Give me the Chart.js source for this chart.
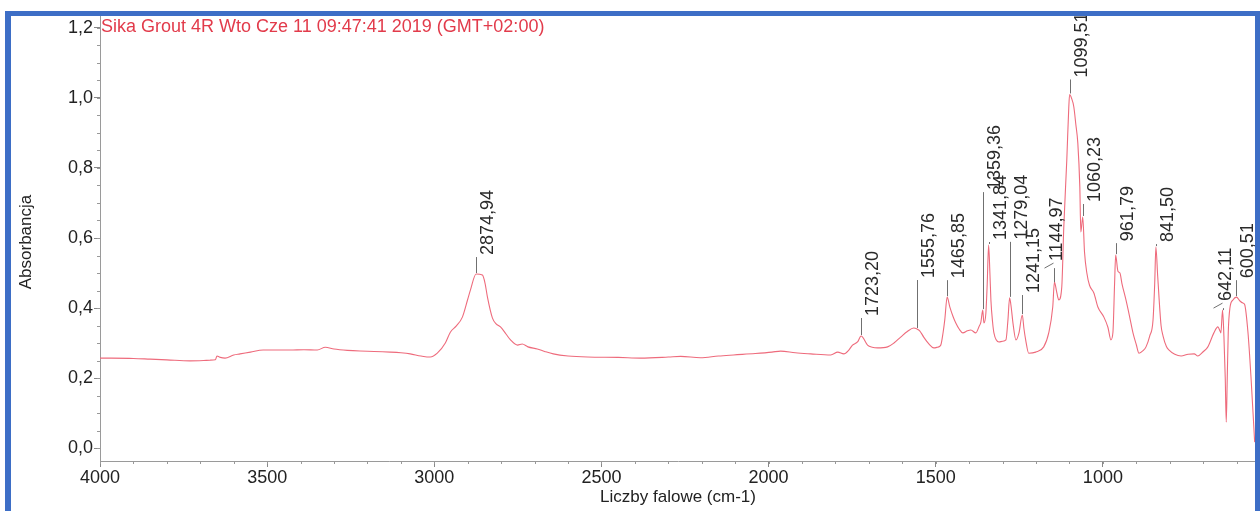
<!DOCTYPE html>
<html>
<head>
<meta charset="utf-8">
<script src="https://cdn.jsdelivr.net/npm/chart.js@4.4.0/dist/chart.umd.min.js"></script>
<style>
  html, body { margin: 0; padding: 0; background: #fff; overflow: hidden; }
  #wrap { position: relative; width: 1260px; height: 511px; }
  #frame { position: absolute; left: 5px; top: 11px; width: 1244px; height: 520px;
           border: 5px solid #3d6ec6; border-left-width: 6px; pointer-events: none; }
</style>
</head>
<body>
<div id="wrap">
  <canvas id="myChart" width="1260" height="511"></canvas>
  <div id="frame"></div>
</div>
<script>
// spectrum (cm-1, absorbance)
var wavenumbers = [
  4000, 3900, 3850, 3800, 3731, 3690, 3671, 3655, 3650, 3640, 3626, 3600, 3581, 3550, 3512,
  3470, 3431, 3390, 3350, 3326, 3300, 3260, 3222, 3180, 3132, 3100, 3072, 3040, 3012, 2991,
  2967, 2952, 2934, 2916, 2900, 2892, 2874.94, 2856, 2848, 2841, 2826, 2815, 2802, 2785, 2772,
  2751, 2737, 2720, 2692, 2670, 2644, 2600, 2542, 2450, 2383, 2300, 2263, 2204, 2150, 2105,
  2040, 1990, 1964, 1920, 1874, 1814, 1793, 1775, 1760, 1749, 1734, 1723.2, 1704, 1690, 1674,
  1644, 1625, 1605, 1585, 1566, 1555.76, 1548, 1536, 1520, 1506, 1495, 1485, 1478, 1473, 1465.85,
  1458, 1448, 1440, 1430, 1419, 1405, 1395, 1380, 1371, 1365, 1359.36, 1356, 1350, 1346, 1341.84,
  1338, 1335, 1330, 1326, 1311, 1300, 1290, 1284, 1279.04, 1274, 1269, 1260, 1251, 1241.15, 1236,
  1231, 1222, 1201, 1177, 1162, 1150, 1144.97, 1139, 1135, 1132, 1123, 1117, 1108, 1102, 1099.51,
  1094, 1087, 1081, 1075, 1069, 1066, 1060.23, 1055, 1048, 1040, 1027, 1015, 997, 985, 976,
  970, 965, 961.79, 955, 949, 943, 931, 920, 910, 900, 892, 880, 871, 860, 850,
  845, 841.5, 836, 826, 820, 810, 802, 785, 766, 745, 727, 716, 700, 686, 668,
  656, 650, 647, 642.11, 638, 634, 631, 628, 625, 620, 611, 600.51, 590, 581, 576,
  566, 557, 546
];
var absorbance = [
  0.257, 0.256, 0.254, 0.252, 0.249, 0.250, 0.251, 0.252, 0.263, 0.259, 0.257, 0.266, 0.269, 0.274, 0.280,
  0.280, 0.280, 0.281, 0.280, 0.288, 0.283, 0.279, 0.277, 0.276, 0.274, 0.272, 0.269, 0.263, 0.260, 0.271,
  0.300, 0.331, 0.349, 0.374, 0.425, 0.451, 0.497, 0.494, 0.470, 0.431, 0.371, 0.355, 0.346, 0.325, 0.309,
  0.294, 0.297, 0.289, 0.283, 0.276, 0.269, 0.263, 0.260, 0.259, 0.257, 0.260, 0.262, 0.258, 0.263, 0.266,
  0.270, 0.274, 0.277, 0.272, 0.269, 0.266, 0.274, 0.269, 0.280, 0.294, 0.303, 0.320, 0.294, 0.288, 0.286,
  0.289, 0.300, 0.317, 0.333, 0.343, 0.340, 0.335, 0.317, 0.297, 0.286, 0.288, 0.294, 0.330, 0.366, 0.431,
  0.403, 0.375, 0.357, 0.340, 0.329, 0.335, 0.337, 0.329, 0.346, 0.360, 0.394, 0.357, 0.386, 0.470, 0.580,
  0.500, 0.423, 0.360, 0.329, 0.303, 0.305, 0.309, 0.366, 0.429, 0.400, 0.357, 0.309, 0.329, 0.380, 0.340,
  0.309, 0.271, 0.274, 0.289, 0.329, 0.403, 0.474, 0.450, 0.431, 0.423, 0.460, 0.631, 0.823, 0.974, 1.010,
  1.000, 0.975, 0.925, 0.871, 0.746, 0.617, 0.660, 0.560, 0.500, 0.465, 0.443, 0.403, 0.374, 0.345, 0.309,
  0.330, 0.470, 0.551, 0.505, 0.500, 0.470, 0.423, 0.375, 0.329, 0.295, 0.271, 0.278, 0.289, 0.320, 0.366,
  0.470, 0.574, 0.490, 0.350, 0.320, 0.290, 0.280, 0.268, 0.263, 0.268, 0.269, 0.263, 0.275, 0.289, 0.329,
  0.346, 0.335, 0.329, 0.394, 0.320, 0.200, 0.074, 0.200, 0.330, 0.400, 0.423, 0.431, 0.420, 0.414, 0.410,
  0.330, 0.203, 0.017
];

var xTicks = [4000, 3500, 3000, 2500, 2000, 1500, 1000];
var yTicks = [0, 0.2, 0.4, 0.6, 0.8, 1.0, 1.2];
var peakWaves = [2874.94, 1723.20, 1555.76, 1465.85, 1359.36, 1341.84, 1279.04, 1241.15,
                 1144.97, 1099.51, 1060.23, 961.79, 841.50, 642.11, 600.51];

var chartTitle = 'Sika Grout 4R Wto Cze 11 09:47:41 2019 (GMT+02:00)';
var xTitle = 'Liczby falowe (cm-1)';
var yTitle = 'Absorbancja';

// label placement (pixels above the peak), 1 = label pushed aside with a leader
var labelLift = [17, 18, 49, 17, 118, 3, 56, 20, 19, 15, 13, 12, 3, 7, 17];
var labelLeader = [0, 0, 0, 0, 0, 0, 0, 0, 1, 0, 0, 0, 0, 1, 0];

var FONT = '"Liberation Sans", Arial, sans-serif';

function comma(v, d) {
  return v.toFixed(d).replace('.', ',');
}

var points = [];
for (var i = 0; i < wavenumbers.length; i++) {
  points.push({ x: wavenumbers[i], y: absorbance[i] });
}

var peakPlugin = {
  id: 'peaks',
  afterDatasetsDraw: function (chart) {
    var ctx = chart.ctx;
    var xs = chart.scales.x;
    var ys = chart.scales.y;
    var area = chart.chartArea;
    ctx.save();

    // minor ticks
    ctx.strokeStyle = '#999';
    ctx.lineWidth = 1;
    ctx.beginPath();
    for (var w = 4000; w >= 600; w -= 100) {
      var px = Math.round(xs.getPixelForValue(w)) + 0.5;
      ctx.moveTo(px, area.bottom);
      ctx.lineTo(px, area.bottom + 3);
    }
    for (var k = 0; k <= 24; k++) {
      var py = Math.round(ys.getPixelForValue(k * 0.05)) + 0.5;
      ctx.moveTo(area.left - 3, py);
      ctx.lineTo(area.left, py);
    }
    ctx.stroke();

    // peak markers
    ctx.font = '18px ' + FONT;
    for (var i = 0; i < peakWaves.length; i++) {
      var val = absorbance[wavenumbers.indexOf(peakWaves[i])];
      var lx = Math.round(xs.getPixelForValue(peakWaves[i])) + 0.5;
      var ly = ys.getPixelForValue(val);
      var top = ly - labelLift[i];
      var tx, tb;
      ctx.strokeStyle = '#707070';
      ctx.beginPath();
      if (labelLeader[i]) {
        ctx.moveTo(lx, ly);
        ctx.lineTo(lx, top + 5);
        ctx.moveTo(lx - 10, top + 5);
        ctx.lineTo(lx - 1, top);
        tx = lx + 3;
        tb = top - 2;
      } else {
        ctx.moveTo(lx, ly - 1);
        ctx.lineTo(lx, top);
        tx = lx + 12;
        tb = top - 2;
      }
      ctx.stroke();
      ctx.save();
      ctx.translate(tx, tb);
      ctx.rotate(-Math.PI / 2);
      ctx.fillStyle = '#2a2a2a';
      ctx.textAlign = 'left';
      ctx.textBaseline = 'middle';
      ctx.fillText(comma(peakWaves[i], 2), 0, 0);
      ctx.restore();
    }

    // title and axis titles
    ctx.fillStyle = '#e23b4b';
    ctx.font = '18px ' + FONT;
    ctx.textAlign = 'left';
    ctx.textBaseline = 'middle';
    ctx.fillText(chartTitle, area.left + 1, 27);

    ctx.fillStyle = '#222';
    ctx.font = '17px ' + FONT;
    ctx.textAlign = 'center';
    ctx.fillText(xTitle, (area.left + area.right) / 2, 497);
    ctx.save();
    ctx.translate(26, 242);
    ctx.rotate(-Math.PI / 2);
    ctx.fillText(yTitle, 0, 0);
    ctx.restore();

    ctx.restore();
  }
};

const config = {
  type: 'line',
  data: {
    datasets: [{
      data: points,
      borderColor: '#ee6b7c',
      borderWidth: 1.1,
      pointRadius: 0,
      fill: false,
      cubicInterpolationMode: 'monotone'
    }]
  },
  options: {
    responsive: false,
    animation: false,
    devicePixelRatio: 1,
    layout: { padding: { left: 0, right: 4, top: 15, bottom: 0 } },
    plugins: { legend: { display: false }, tooltip: { enabled: false } },
    scales: {
      x: {
        type: 'linear',
        reverse: true,
        min: 542,
        max: 4000,
        afterBuildTicks: function (s) {
          s.ticks = xTicks.map(function (v) { return { value: v }; });
        },
        afterFit: function (s) { s.height = 50; },
        grid: { drawOnChartArea: false, drawTicks: true, tickLength: 6, color: '#888' },
        border: { display: true, color: '#9a9a9a', dash: [2, 2] },
        ticks: {
          autoSkip: false,
          maxRotation: 0,
          padding: 0,
          color: '#222',
          font: { family: FONT, size: 18 },
          callback: function (v) { return String(v); }
        }
      },
      y: {
        min: -0.037,
        max: 1.237,
        afterBuildTicks: function (s) {
          s.ticks = yTicks.map(function (v) { return { value: v }; });
        },
        afterFit: function (s) { s.width = 100; },
        grid: { drawOnChartArea: false, drawTicks: true, tickLength: 6, color: '#888' },
        border: { display: true, color: '#9a9a9a', dash: [2, 2] },
        ticks: {
          padding: 1,
          color: '#222',
          font: { family: FONT, size: 18 },
          callback: function (v) { return comma(v, 1); }
        }
      }
    }
  },
  plugins: [peakPlugin]
};

const myChart = new Chart(document.getElementById('myChart'), config);
</script>
</body>
</html>
